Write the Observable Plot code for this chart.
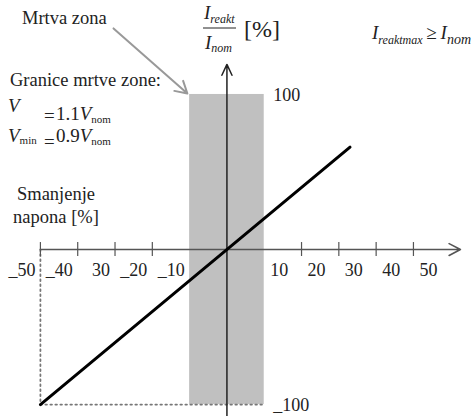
<!DOCTYPE html>
<html><head><meta charset="utf-8">
<script src="https://cdn.jsdelivr.net/npm/d3@7"></script>
<script src="https://cdn.jsdelivr.net/npm/@observablehq/plot@0.6"></script>
<style>body{margin:0;background:#fff}#chart{width:473px;height:416px}</style>
</head><body><div id="chart"></div>
<script>
// ---- data ----
const xTicks = [-50, -40, -30, -20, 20, 30, 40, 50];
const xLabelValues = [-50, -40, -30, -20, -10, 10, 20, 30, 40, 50];
const xLabelTexts = ["_50", "_40", "30", "_20", "_10", "10", "20", "30", "40", "50"];
const yLabelValues = [100, -100];
const yLabelTexts = ["100", "_100"];
const deadZoneU = [-10, 10];      // voltage limits of dead zone [%]
const deadZoneI = [-100, 100];    // current limits [%]
const characteristicU = [-50, 33];
const characteristicI = [-100, 66];
const guideU = [-50, -50, 10];
const guideI = [0, -100, -100];
const annotArrowU = [-30.4, -10.6];
const annotArrowI = [142.6, 100.6];

const serif = "'Liberation Serif', 'Times New Roman', serif";

const labelsNeg = xLabelValues.map((v, k) => ({v, t: xLabelTexts[k]})).filter(d => d.v < 0);
const labelsPos = xLabelValues.map((v, k) => ({v, t: xLabelTexts[k]})).filter(d => d.v > 0);
const yLabels = yLabelValues.map((v, k) => ({v, t: yLabelTexts[k]}));
const line = characteristicU.map((u, k) => ({u, i: characteristicI[k]}));
const guide = guideU.map((u, k) => ({u, i: guideI[k]}));

const chart = Plot.plot({
  width: 473, height: 416, margin: 0,
  x: {domain: [-60.7, 66.1], axis: null},
  y: {domain: [-107.7, 160.6], axis: null},
  style: {background: "white", fontFamily: serif},
  marks: [
    Plot.rect([0], {x1: deadZoneU[0], x2: deadZoneU[1], y1: deadZoneI[0], y2: deadZoneI[1], fill: "#c0c0c0"}),
    Plot.line(guide, {x: "u", y: "i", stroke: "#777", strokeWidth: 1.8, strokeDasharray: "1.6,3.4"}),
    Plot.arrow([0], {x1: -50, y1: 0, x2: 62.6, y2: 0, stroke: "#555", strokeWidth: 1.6, headLength: 12, headAngle: 55}),
    Plot.arrow([0], {x1: 0, y1: -107.7, x2: 0, y2: 119.4, stroke: "#222", strokeWidth: 1.5, headLength: 12, headAngle: 50}),
    Plot.ruleX(xTicks, {x: d => d, y1: -4.5, y2: 4.5, stroke: "#555", strokeWidth: 1.2}),
    Plot.line(line, {x: "u", y: "i", stroke: "#000", strokeWidth: 3}),
    Plot.arrow([0], {x1: annotArrowU[0], y1: annotArrowI[0], x2: annotArrowU[1], y2: annotArrowI[1], stroke: "#999", strokeWidth: 2, headLength: 10, headAngle: 60}),
    Plot.text(labelsNeg, {x: "v", y: 0, text: "t", dy: 21, dx: -5, textAnchor: "end", fontSize: 18, fontFamily: serif, fill: "#222"}),
    Plot.text(labelsPos, {x: "v", y: 0, text: "t", dy: 21, dx: 6, textAnchor: "start", fontSize: 18, fontFamily: serif, fill: "#222"}),
    Plot.text(yLabels, {x: deadZoneU[1], y: "v", text: "t", dx: 9, dy: 1, textAnchor: "start", fontSize: 18, fontFamily: serif, fill: "#222"})
  ]
});
document.getElementById("chart").appendChild(chart);

// ---- annotations ----
const svg = d3.select(chart);
function addText(x, y, parts, size = 18.5, anchor = "start") {
  const t = svg.append("text").attr("x", x).attr("y", y)
    .attr("font-family", serif).attr("font-size", size).attr("fill", "#222")
    .attr("text-anchor", anchor);
  let cur = 0;
  parts.forEach(p => {
    if (typeof p === "string") p = {t: p};
    const s = t.append("tspan").text(p.t);
    if (p.size) s.attr("font-size", p.size);
    if (p.it) s.attr("font-style", "italic");
    const sh = p.sh || 0;
    if (sh !== cur) { s.attr("dy", sh - cur); cur = sh; }
  });
}
addText(22, 24, ["Mrtva zona"]);
addText(10, 86, ["Granice mrtve zone:"]);
addText(8, 112, [{t: "V", it: true}], 19);
addText(44, 122, ["="], 19);
addText(56, 120, ["1.1", {t: "V", it: true}, {t: "nom", size: 11, sh: 3}], 19);
addText(8, 142, [{t: "V", it: true}, {t: "min", size: 11, sh: 2}], 19);
addText(44, 148, ["="], 19);
addText(56, 142, ["0.9", {t: "V", it: true}, {t: "nom", size: 11, sh: 3}], 19);
addText(56, 200, ["Smanjenje"], 18.5, "middle");
addText(56, 223, ["napona [%]"], 18.5, "middle");
addText(204, 19, [{t: "I", it: true}, {t: "reakt", it: true, size: 12, sh: 4}], 19);
svg.append("line").attr("x1", 203).attr("x2", 236).attr("y1", 28).attr("y2", 28).attr("stroke", "#222").attr("stroke-width", 1);
addText(205, 49, [{t: "I", it: true}, {t: "nom", it: true, size: 12, sh: 3}], 19);
addText(244, 37, ["[%]"], 24);
addText(372, 39, [{t: "I", it: true}, {t: "reaktmax", it: true, size: 12, sh: 5}, {t: "\u2009≥\u2009", sh: 0}, {t: "I", it: true}, {t: "nom", it: true, size: 14, sh: 5}], 19);
</script></body></html>
